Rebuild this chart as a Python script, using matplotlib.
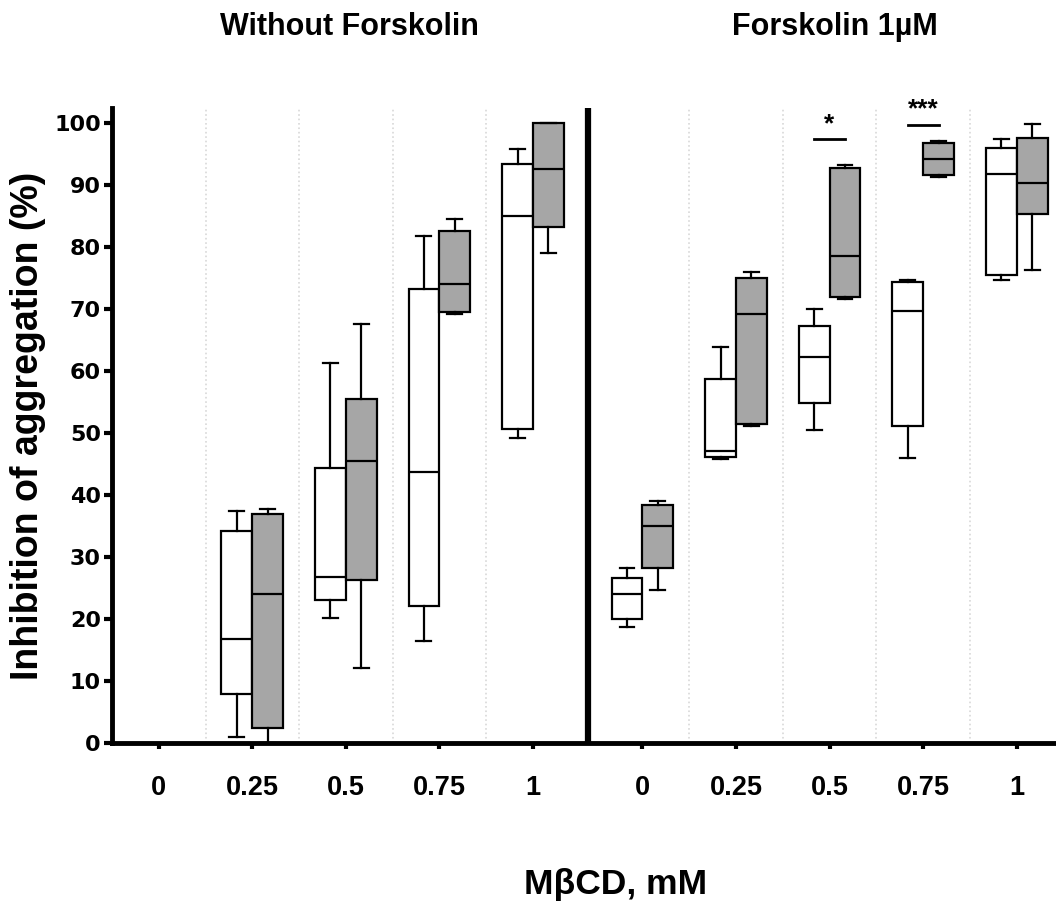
import matplotlib
matplotlib.use("Agg")
import matplotlib.pyplot as plt

plt.rcParams['font.family'] = ['Liberation Sans', 'DejaVu Sans']
plt.rcParams['font.weight'] = 'bold'

# ---- data ----
doses = ['0', '0.25', '0.5', '0.75', '1']
panels = ['Without Forskolin', 'Forskolin 1\u00b5M']

# Without Forskolin: control (white) boxes  [whislo, q1, med, q3, whishi]; None = no box
wf_white = [None,
            [1.0, 7.9, 16.8, 34.2, 37.4],
            [20.2, 23.1, 26.8, 44.3, 61.3],
            [16.4, 22.1, 43.7, 73.3, 81.8],
            [49.3, 50.6, 85.1, 93.4, 95.8]]
wf_gray = [None,
           [0.0, 2.5, 24.0, 36.9, 37.7],
           [12.1, 26.3, 45.5, 55.5, 67.6],
           [69.2, 69.5, 74.1, 82.6, 84.5],
           [79.0, 83.3, 92.7, 100.0, 100.0]]
# Forskolin 1 uM
fk_white = [[18.8, 20.0, 24.1, 26.7, 28.2],
            [45.8, 46.2, 47.2, 58.8, 63.9],
            [50.5, 54.9, 62.3, 67.3, 70.0],
            [46.0, 51.1, 69.7, 74.4, 74.7],
            [74.7, 75.5, 91.8, 96.0, 97.4]]
fk_gray = [[24.7, 28.3, 35.0, 38.4, 39.1],
           [51.2, 51.4, 69.3, 75.1, 76.0],
           [71.7, 72.0, 78.6, 92.8, 93.2],
           [91.3, 91.6, 94.2, 96.8, 97.1],
           [76.4, 85.3, 90.3, 97.6, 99.9]]
# significance (panel index, dose index, label, bar height)
sig = [(1, 2, '*', 97.4), (1, 3, '***', 99.8)]

yticks = [0, 10, 20, 30, 40, 50, 60, 70, 80, 90, 100]

# ---- layout ----
fig = plt.figure(figsize=(10.56, 9.07), dpi=100)
ax = fig.add_axes([0.106, 0.1808, 0.894, 0.7003])

offset = 5.17
pos_sets = [[i for i in range(5)], [offset + i for i in range(5)]]
bw = 0.33

def mk(v):
    return dict(whislo=v[0], q1=v[1], med=v[2], q3=v[3], whishi=v[4], fliers=[])

for p, (whites, grays) in enumerate([(wf_white, wf_gray), (fk_white, fk_gray)]):
    for i in range(5):
        x = pos_sets[p][i]
        for vals, dx, fc in [(whites[i], -bw / 2, 'white'), (grays[i], bw / 2, '#a6a6a6')]:
            if vals is None:
                continue
            ax.bxp([mk(vals)], positions=[x + dx], widths=bw, showfliers=False,
                   patch_artist=True, capwidths=[0.16],
                   boxprops=dict(facecolor=fc, edgecolor='black', linewidth=1.6),
                   medianprops=dict(color='black', linewidth=1.6),
                   whiskerprops=dict(color='black', linewidth=1.6),
                   capprops=dict(color='black', linewidth=1.6),
                   manage_ticks=False, zorder=3)

# dotted separators
for p in range(2):
    for i in range(4):
        ax.axvline(pos_sets[p][i] + 0.5, color='#d8d8d8', linestyle=':', linewidth=1.2, zorder=1)

# thick divider between panels
ax.axvline((4 + offset) / 2, color='black', linewidth=4.5, zorder=4)

# significance marks
for p, i, lab, yl in sig:
    x = pos_sets[p][i]
    ax.plot([x - bw / 2, x + bw / 2], [yl, yl], color='black', linewidth=2, clip_on=False, zorder=5)
    ax.text(x, yl + 0.5, lab, ha='center', va='bottom', fontsize=19, fontweight='bold',
            clip_on=False)

ax.set_xlim(-0.5, offset + 4 + 0.42)
ax.set_ylim(0, 102.5)
ax.set_yticks(yticks)
ax.set_yticklabels([str(t) for t in yticks], fontsize=16, fontweight='bold',
                   family=['DejaVu Sans'])
ax.set_xticks(pos_sets[0] + pos_sets[1])
ax.set_xticklabels(doses + doses, fontsize=19.5, fontweight='bold')
ax.tick_params(axis='y', length=6, width=3, pad=2)
ax.tick_params(axis='x', length=4, width=3, pad=19)

for s in ['top', 'right']:
    ax.spines[s].set_visible(False)
ax.spines['left'].set_linewidth(3.5)
ax.spines['bottom'].set_linewidth(3.5)

ax.set_ylabel('Inhibition of aggregation (%)', fontsize=27, fontweight='bold', labelpad=6)
fig.text(0.583, 0.0143, 'M\u03b2CD, mM', ha='center', va='baseline', fontsize=25.5,
         fontweight='bold')

title_x = [0.331, 0.791]
for p in range(2):
    fig.text(title_x[p], 0.9614, panels[p], ha='center', va='baseline',
             fontsize=22, fontweight='bold')

fig.savefig('out.png', dpi=100)
